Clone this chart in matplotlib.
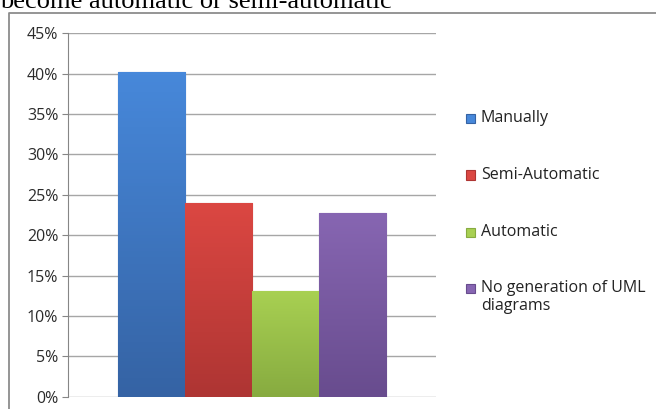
import numpy as np
import matplotlib.pyplot as plt
from matplotlib.lines import Line2D
from matplotlib.patches import Rectangle
from matplotlib.colors import LinearSegmentedColormap

# Data
series = ['Manually', 'Semi-Automatic', 'Automatic', 'No generation of UML\ndiagrams']
values = [40.2, 24.0, 13.1, 22.8]
top_colors = ['#4788DA', '#DB4742', '#A8D052', '#8766B2']
bottom_colors = ['#3563A4', '#AE3533', '#87AB40', '#684C8E']
edge_colors = ['#2E5A94', '#9C302E', '#7A9B3A', '#5C4380']
yticks = [0, 5, 10, 15, 20, 25, 30, 35, 40, 45]

W, H = 656, 409
fig = plt.figure(figsize=(W / 100, H / 100), dpi=100)
ax = fig.add_axes([68 / W, 1 - 396.7 / H, (436 - 68) / W, (396.7 - 33.3) / H])

x = np.arange(len(values))
bars = ax.bar(x, values, width=1.0, color=top_colors, edgecolor=edge_colors,
              linewidth=0.8, zorder=3)

# vertical gradient inside each bar
for b, c1, c2 in zip(bars, top_colors, bottom_colors):
    cmap = LinearSegmentedColormap.from_list('g', [c2, c1])
    x0, y0 = b.get_x(), b.get_y()
    grad = np.linspace(0, 1, 100).reshape(-1, 1)
    im = ax.imshow(grad, cmap=cmap, aspect='auto', origin='lower',
                   extent=[x0, x0 + b.get_width(), y0, y0 + b.get_height()],
                   zorder=3.5)
    im.set_clip_path(b)

ax.set_xlim(-1.242, 4.25)
ax.set_ylim(0, 45)
ax.set_yticks(yticks)
ax.set_yticklabels([f'{t}%' for t in yticks], fontfamily='Open Sans',
                   fontsize=11.5, color='#2B2B2B')
ax.set_xticks([])
ax.yaxis.grid(True, color='#A6A6A6', linewidth=1, zorder=0)
ax.set_axisbelow(True)
for s in ['top', 'right', 'bottom']:
    ax.spines[s].set_visible(False)
ax.spines['left'].set_color('#868686')
ax.tick_params(axis='y', length=4, color='#868686', pad=3)

# outer chart frame
fig.add_artist(Line2D([9 / W, 9 / W, 1], [0, 1 - 13 / H, 1 - 13 / H],
                      transform=fig.transFigure, color='#8C8C8C', linewidth=1.3))

# text above the chart (cut off at the top in the original too)
fig.text(0, 1 - 7.5 / H, 'become automatic or semi-automatic',
         fontfamily='Liberation Serif', fontsize=19, va='baseline', ha='left')

# legend
leg_y = [118, 175, 232, 288]
for name, c1, c2, yy in zip(series, top_colors, bottom_colors, leg_y):
    fig.add_artist(Rectangle(((470 - 4.5) / W, 1 - (yy + 4.5) / H), 9 / W, 9 / H,
                             transform=fig.transFigure, facecolor=c1,
                             edgecolor=c2, linewidth=0.8))
    lines = name.split('\n')
    for i, ln in enumerate(lines):
        fig.text(481 / W, 1 - (yy + i * 18) / H, ln, fontfamily='Open Sans',
                 fontsize=11.5, va='center', ha='left', color='#222222')

fig.savefig('out.png', dpi=100)
